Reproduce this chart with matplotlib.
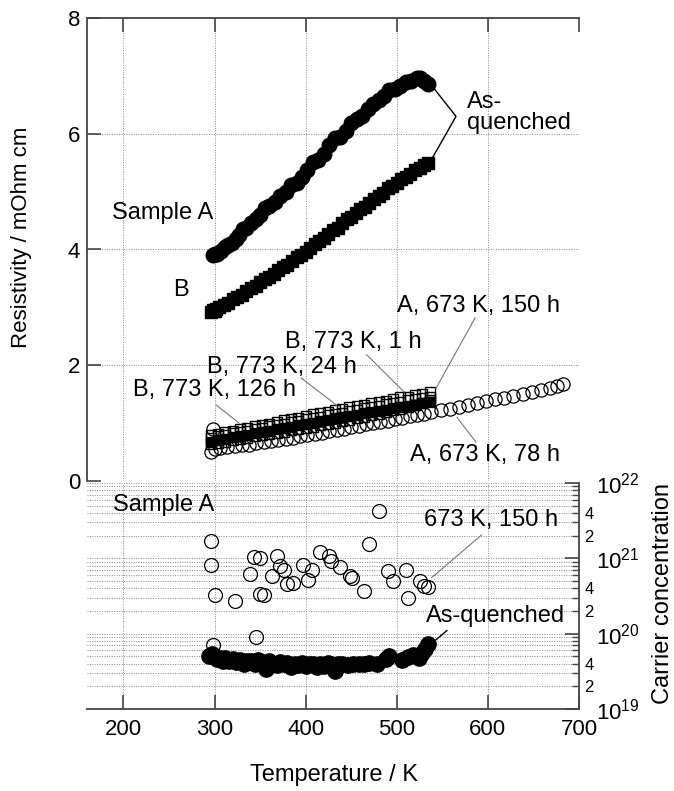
import numpy as np
import matplotlib
matplotlib.use("Agg")
import matplotlib.pyplot as plt
from matplotlib.ticker import LogLocator, FuncFormatter

plt.rcParams['font.family'] = ['Liberation Sans', 'DejaVu Sans']
plt.rcParams['mathtext.fontset'] = 'custom'
plt.rcParams['mathtext.rm'] = 'Liberation Sans'
plt.rcParams['mathtext.it'] = 'Liberation Sans'

# --- resistivity, as-quenched ---
A_q_T = [298, 300, 303, 307, 311, 315, 319, 323, 327, 331, 335, 340, 345, 350, 355, 360,
         366, 372, 378, 384, 390, 396, 402, 408, 414, 420, 426, 432, 438, 444, 450, 456,
         462, 468, 474, 480, 486, 492, 498, 504, 510, 516, 522, 526, 530, 534]
A_q_rho = [3.90, 3.93, 3.92, 3.98, 4.05, 4.08, 4.12, 4.18, 4.25, 4.36, 4.38, 4.45, 4.52, 4.60,
           4.72, 4.75, 4.82, 4.92, 5.00, 5.12, 5.15, 5.25, 5.38, 5.52, 5.55, 5.65, 5.80, 5.92,
           5.95, 6.05, 6.18, 6.25, 6.30, 6.42, 6.52, 6.58, 6.65, 6.76, 6.78, 6.82, 6.90, 6.92,
           6.96, 6.97, 6.92, 6.86]

B_q_T = [296, 298, 300, 302, 305, 310, 315, 320, 325, 330, 335, 340, 345, 350, 355, 360,
         365, 370, 375, 380, 385, 390, 395, 400, 405, 410, 415, 420, 425, 430, 435, 440,
         445, 450, 455, 460, 465, 470, 475, 480, 485, 490, 495, 500, 505, 510, 515, 520,
         525, 530, 534]
B_q_rho = [2.92, 2.96, 2.93, 2.97, 3.01, 3.04, 3.08, 3.14, 3.18, 3.22, 3.28, 3.33, 3.37, 3.43,
           3.49, 3.53, 3.57, 3.64, 3.70, 3.74, 3.80, 3.87, 3.91, 3.96, 4.03, 4.10, 4.14, 4.20,
           4.27, 4.34, 4.38, 4.45, 4.52, 4.56, 4.63, 4.70, 4.74, 4.80, 4.88, 4.92, 4.98, 5.06,
           5.09, 5.15, 5.22, 5.26, 5.31, 5.38, 5.41, 5.46, 5.50]

# --- resistivity, annealed ---
A78_T = [296, 298, 300, 306, 314, 322, 330, 338, 346, 354, 362, 370, 378, 386, 394, 402,
         410, 418, 426, 434, 442, 450, 458, 466, 474, 482, 490, 498, 506, 514, 522, 530,
         538, 548, 558, 568, 578, 588, 598, 608, 618, 628, 638, 648, 658, 668, 676, 682]
A78_rho = [0.50, 0.90, 0.55, 0.57, 0.58, 0.60, 0.62, 0.63, 0.65, 0.67, 0.69, 0.71, 0.73, 0.75,
           0.77, 0.79, 0.81, 0.83, 0.86, 0.88, 0.90, 0.93, 0.95, 0.98, 1.00, 1.02, 1.04, 1.07,
           1.09, 1.12, 1.14, 1.16, 1.19, 1.22, 1.25, 1.28, 1.31, 1.35, 1.38, 1.41, 1.44, 1.47,
           1.51, 1.54, 1.57, 1.61, 1.64, 1.67]

ann_T = [296, 304, 312, 320, 328, 336, 344, 352, 360, 368, 376, 384, 392, 400, 408, 416,
         424, 432, 440, 448, 456, 464, 472, 480, 488, 496, 504, 512, 520, 528, 536]
B1_rho = [0.80, 0.82, 0.85, 0.87, 0.89, 0.92, 0.95, 0.97, 0.99, 1.02, 1.05, 1.07, 1.09, 1.12,
          1.15, 1.17, 1.19, 1.22, 1.25, 1.27, 1.29, 1.32, 1.35, 1.37, 1.39, 1.42, 1.45, 1.46,
          1.48, 1.51, 1.53]
B24_rho = [0.75, 0.78, 0.80, 0.83, 0.85, 0.87, 0.90, 0.92, 0.95, 0.97, 0.99, 1.02, 1.04, 1.07,
           1.09, 1.11, 1.14, 1.16, 1.18, 1.21, 1.23, 1.26, 1.28, 1.30, 1.33, 1.35, 1.37, 1.40,
           1.42, 1.44, 1.46]
B126_rho = [0.68, 0.71, 0.73, 0.76, 0.78, 0.80, 0.83, 0.85, 0.87, 0.89, 0.92, 0.94, 0.96, 0.99,
            1.01, 1.03, 1.05, 1.08, 1.10, 1.12, 1.14, 1.17, 1.19, 1.21, 1.23, 1.26, 1.28, 1.30,
            1.32, 1.34, 1.36]
A150_rho = [0.64, 0.66, 0.68, 0.70, 0.72, 0.74, 0.77, 0.79, 0.81, 0.83, 0.85, 0.88, 0.90, 0.92,
            0.94, 0.97, 0.99, 1.01, 1.04, 1.06, 1.09, 1.11, 1.14, 1.16, 1.19, 1.22, 1.25, 1.28,
            1.31, 1.35, 1.40]

# --- carrier concentration, sample A ---
n150_T = [296, 296, 300, 322, 298, 346, 339, 343, 350, 350, 354, 363, 368, 372, 376, 379,
          386, 397, 403, 407, 416, 426, 428, 438, 449, 451, 464, 470, 480, 490, 496, 510,
          512, 526, 530, 534]
n150 = [1.7e21, 8.1e20, 3.3e20, 2.7e20, 7.1e19, 8.9e19, 6.2e20, 1.05e21, 1.0e21, 3.4e20,
        3.3e20, 5.8e20, 1.07e21, 7.9e20, 7.0e20, 4.6e20, 4.7e20, 8.1e20, 5.2e20, 7.0e20,
        1.2e21, 1.06e21, 9.1e20, 7.7e20, 5.8e20, 5.5e20, 3.7e20, 1.55e21, 4.2e21, 6.7e20,
        5.0e20, 7.0e20, 3.0e20, 5.0e20, 4.3e20, 4.2e20]

nq_T = [294, 297, 300, 303, 306, 309, 312, 316, 320, 324, 328, 332, 336, 340, 344, 348,
        352, 356, 360, 364, 368, 372, 376, 380, 384, 388, 392, 396, 400, 404, 408, 412,
        416, 420, 424, 428, 432, 436, 440, 446, 452, 458, 464, 470, 478, 488, 492, 506,
        512, 518, 524, 528, 531, 534]
nq = [5.0e19, 5.4e19, 4.9e19, 4.6e19, 4.8e19, 4.4e19, 4.7e19, 4.3e19, 4.6e19, 4.2e19, 4.5e19,
      4.0e19, 4.3e19, 4.4e19, 3.9e19, 4.5e19, 4.2e19, 3.4e19, 4.4e19, 4.0e19, 3.8e19, 4.2e19,
      3.9e19, 4.1e19, 3.6e19, 4.0e19, 3.8e19, 4.1e19, 3.7e19, 3.9e19, 4.0e19, 3.6e19, 3.9e19,
      3.7e19, 4.1e19, 3.9e19, 3.2e19, 3.9e19, 4.0e19, 3.8e19, 4.0e19, 3.9e19, 4.0e19, 4.1e19,
      4.0e19, 4.6e19, 5.0e19, 4.5e19, 4.9e19, 5.2e19, 4.8e19, 5.6e19, 6.2e19, 7.3e19]

fs = 17
spine_c = '#444444'
grid_kw = dict(color='#888888', ls=(0, (1, 1.5)), lw=0.7)

fig = plt.figure(figsize=(6.74, 7.91), dpi=100)
ax1 = fig.add_axes([87/674, 1-481/791, 492/674, 463/791])
ax2 = fig.add_axes([87/674, 1-709/791, 492/674, 226/791])

# ---- top panel ----
ax1.plot(A_q_T, A_q_rho, 'o', ms=10.5, color='k', mec='k')
ax1.plot(B_q_T, B_q_rho, 's', ms=9, color='k', mec='k')
ax1.plot(ann_T, B126_rho, 's', ms=7, color='k', mec='k')
ax1.plot(ann_T, A150_rho, 's', ms=7.5, mfc='none', mec='k', mew=1)
ax1.plot(ann_T, B24_rho, 's', ms=7.5, mfc='none', mec='k', mew=1)
ax1.plot(ann_T, B1_rho, 's', ms=7.5, mfc='none', mec='k', mew=1)
ax1.plot(A78_T, A78_rho, 'o', ms=9.5, mfc='none', mec='k', mew=0.9)

ax1.set_xlim(160, 700)
ax1.set_ylim(0, 8)
ax1.set_yticks([0, 2, 4, 6, 8])
ax1.set_xticks([200, 300, 400, 500, 600, 700])
ax1.xaxis.tick_top()
ax1.tick_params(axis='x', direction='in', length=10, width=1.2, color=spine_c,
                labeltop=False, labelbottom=False)
ax1.tick_params(axis='y', direction='in', length=10, width=1.2, color=spine_c,
                labelsize=16, pad=5)
for s in ['right', 'bottom']:
    ax1.spines[s].set_visible(False)
for s in ['left', 'top']:
    ax1.spines[s].set_color(spine_c)
    ax1.spines[s].set_linewidth(1.3)
ax1.grid(True, **grid_kw)
ax1.set_axisbelow(True)

ax1.text(187, 4.63, 'Sample A', fontsize=fs, va='center')
ax1.text(255, 3.3, 'B', fontsize=fs, va='center')
ax1.text(577, 6.36, 'As-\nquenched', fontsize=fs, va='center', linespacing=0.95)
ax1.plot([539, 565, 539], [6.82, 6.3, 5.58], color='k', lw=1)
ax1.text(500, 3.02, 'A, 673 K, 150 h', fontsize=fs, va='center')
ax1.plot([586, 543], [2.82, 1.6], color='#777777', lw=0.8)
ax1.text(377, 2.4, 'B, 773 K, 1 h', fontsize=fs, va='center')
ax1.plot([467, 508], [2.18, 1.54], color='#777777', lw=0.8)
ax1.text(292, 1.97, 'B, 773 K, 24 h', fontsize=fs, va='center')
ax1.plot([395, 434], [1.78, 1.31], color='#777777', lw=0.8)
ax1.text(210, 1.57, 'B, 773 K, 126 h', fontsize=fs, va='center')
ax1.plot([302, 327], [1.31, 1.0], color='#777777', lw=0.8)
ax1.text(514, 0.45, 'A, 673 K, 78 h', fontsize=fs, va='center')
ax1.plot([566, 587], [1.1, 0.67], color='#777777', lw=0.8)

# ---- bottom panel ----
ax2.plot(n150_T, n150, 'o', ms=10, mfc='none', mec='k', mew=0.9)
ax2.plot(nq_T, nq, 'o', ms=11, color='k', mec='k')

ax2.set_yscale('log')
ax2.set_xlim(160, 700)
ax2.set_ylim(1e19, 1e22)
ax2.set_xticks([200, 300, 400, 500, 600, 700])
ax2.yaxis.tick_right()
ax2.yaxis.set_major_locator(LogLocator(base=10, numticks=10))
ax2.yaxis.set_minor_locator(LogLocator(base=10, subs=np.arange(2, 10), numticks=20))
ax2.yaxis.set_major_formatter(FuncFormatter(lambda v, p: r'$10^{%d}$' % round(np.log10(v))))


def minor_fmt(v, p):
    m = v / 10 ** np.floor(np.log10(v) + 1e-9)
    if abs(m - 2) < 0.01:
        return '2'
    if abs(m - 4) < 0.01:
        return '4'
    return ''


ax2.yaxis.set_minor_formatter(FuncFormatter(minor_fmt))
ax2.tick_params(axis='x', direction='in', length=10, width=1.2, color=spine_c,
                labelsize=16, pad=7)
ax2.tick_params(axis='y', which='major', direction='in', length=10, width=1.2,
                color=spine_c, labelsize=16, pad=12)
ax2.tick_params(axis='y', which='minor', direction='in', length=5, width=1,
                color=spine_c, labelsize=12, pad=4)
for s in ['left', 'top']:
    ax2.spines[s].set_visible(False)
for s in ['right', 'bottom']:
    ax2.spines[s].set_color(spine_c)
    ax2.spines[s].set_linewidth(1.3)
ax2.grid(True, which='major', axis='both', **grid_kw)
ax2.grid(True, which='minor', axis='y', **grid_kw)
ax2.set_axisbelow(True)

ax2.text(188, 5.1e21, 'Sample A', fontsize=fs, va='center')
ax2.text(530, 3.2e21, '673 K, 150 h', fontsize=fs, va='center')
ax2.plot([593, 538], [2.04e21, 5.5e20], color='#777777', lw=0.8)
ax2.text(532, 1.7e20, 'As-quenched', fontsize=fs, va='center')
ax2.plot([555, 541], [1.1e20, 7.9e19], color='k', lw=1)

fig.text(22/674, 1-237/791, 'Resistivity / mOhm cm', rotation=90, fontsize=16,
         ha='center', va='center')
fig.text(334/674, 1-775/791, 'Temperature / K', fontsize=fs, ha='center', va='center')
fig.text(663/674, 1-594/791, 'Carrier concentration', rotation=90, fontsize=fs,
         ha='center', va='center')

fig.savefig('out.png', dpi=100)
